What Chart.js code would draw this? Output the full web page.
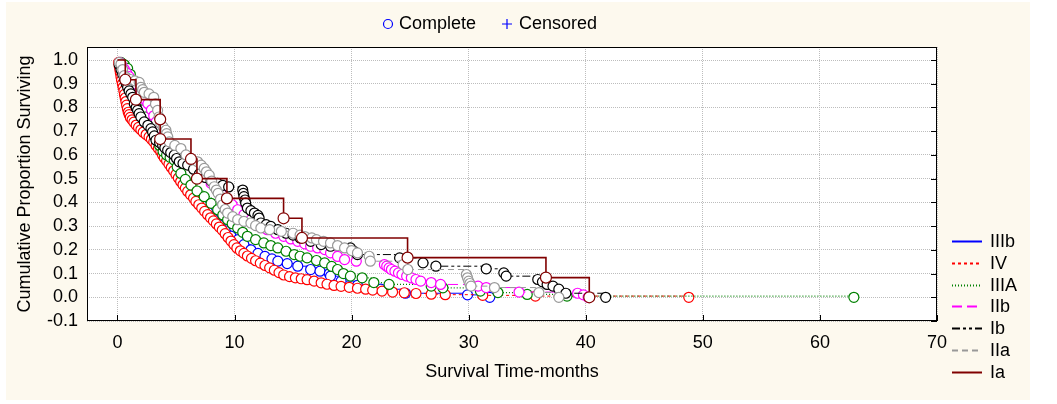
<!DOCTYPE html>
<html>
<head>
<meta charset="utf-8">
<script src="https://cdn.jsdelivr.net/npm/chart.js@4.4.1/dist/chart.umd.min.js"></script>
<style>
html,body{margin:0;padding:0;background:#fff;}
canvas{display:block;}
</style>
</head>
<body>
<canvas id="c" width="1057" height="404"></canvas>
<script>
// ---------- data ----------
const xTicks = [0, 10, 20, 30, 40, 50, 60, 70];
const xTickLabels = ['0', '10', '20', '30', '40', '50', '60', '70'];
const yTicks = [-0.1, 0, 0.1, 0.2, 0.3, 0.4, 0.5, 0.6, 0.7, 0.8, 0.9, 1.0];
const yTickLabels = ['-0.1', '0.0', '0.1', '0.2', '0.3', '0.4', '0.5', '0.6', '0.7', '0.8', '0.9', '1.0'];
const seriesNames = ['IIIb', 'IV', 'IIIA', 'IIb', 'Ib', 'IIa', 'Ia'];

// [time (months), cumulative proportion surviving]
const ptsIIIb = [[0,1],[0.2,0.97],[0.4,0.93],[0.6,0.89],[0.8,0.85],[1.0,0.81],[1.3,0.78],[1.7,0.75],[2.2,0.72],[2.7,0.69],[3.2,0.66],[3.7,0.625],[4.2,0.59],[4.7,0.555],[5.2,0.52],[5.7,0.485],[6.2,0.45],[6.7,0.42],[7.2,0.39],[7.7,0.36],[8.2,0.33],[8.7,0.305],[9.2,0.28],[9.7,0.258],[10.3,0.243],[10.8,0.222],[11.4,0.2],[12.0,0.185],[12.6,0.172],[13.2,0.162],[13.7,0.152],[14.5,0.142],[15.4,0.131],[16.5,0.117],[17.3,0.11],[18.1,0.1],[18.2,0.089],[19.1,0.068],[20.5,0.05],[22.5,0.034],[24.6,0.017],[29.9,0.01],[31.8,0]];

const ptsIV = [[0,1],[0.1,0.99],[0.15,0.975],[0.2,0.96],[0.25,0.945],[0.3,0.93],[0.35,0.915],[0.42,0.9],[0.48,0.885],[0.55,0.87],[0.6,0.855],[0.66,0.84],[0.72,0.825],[0.78,0.81],[0.85,0.795],[0.92,0.78],[1.0,0.77],[1.1,0.758],[1.25,0.748],[1.4,0.738],[1.6,0.726],[1.8,0.716],[2.0,0.706],[2.2,0.696],[2.45,0.686],[2.7,0.676],[2.9,0.666],[3.1,0.655],[3.3,0.64],[3.5,0.627],[3.7,0.614],[3.85,0.6],[4.0,0.588],[4.2,0.575],[4.4,0.561],[4.6,0.547],[4.8,0.533],[5.0,0.518],[5.2,0.503],[5.4,0.488],[5.6,0.474],[5.8,0.46],[6.0,0.446],[6.25,0.432],[6.5,0.418],[6.7,0.404],[6.95,0.39],[7.2,0.376],[7.45,0.362],[7.7,0.348],[7.95,0.335],[8.2,0.322],[8.45,0.309],[8.7,0.296],[8.95,0.283],[9.2,0.268],[9.45,0.252],[9.7,0.237],[9.95,0.222],[10.2,0.208],[10.5,0.196],[10.8,0.185],[11.1,0.174],[11.45,0.164],[11.8,0.154],[12.2,0.144],[12.6,0.134],[13.0,0.124],[13.4,0.114],[13.8,0.104],[14.2,0.094],[14.7,0.087],[15.2,0.082],[15.7,0.078],[16.2,0.074],[16.8,0.068],[17.4,0.061],[17.9,0.055],[18.5,0.05],[19.1,0.046],[19.8,0.042],[20.5,0.038],[21.2,0.034],[21.8,0.03],[22.6,0.026],[23.5,0.022],[24.5,0.019],[25.5,0.016],[26.8,0.013],[28.0,0.011],[31.2,0.008],[35.7,0.005],[48.8,0]];

const ptsIIIA = [[0,1],[0.3,0.99],[0.6,0.98],[0.87,0.965],[1.1,0.94],[1.3,0.91],[1.5,0.88],[1.7,0.85],[1.9,0.82],[2.1,0.79],[2.4,0.76],[2.7,0.73],[3.0,0.7],[3.3,0.67],[3.6,0.64],[3.9,0.615],[4.2,0.6],[4.5,0.59],[4.85,0.578],[5.1,0.55],[5.42,0.522],[5.8,0.497],[6.28,0.473],[6.8,0.448],[7.41,0.424],[8.0,0.396],[8.56,0.369],[9.0,0.347],[9.41,0.327],[9.8,0.31],[10.27,0.292],[10.7,0.274],[11.1,0.257],[11.8,0.243],[12.5,0.229],[13.1,0.218],[13.7,0.208],[14.4,0.194],[15.1,0.18],[15.6,0.173],[16.2,0.166],[17.0,0.155],[17.7,0.145],[18.3,0.13],[18.8,0.117],[19.3,0.1],[19.9,0.089],[20.9,0.082],[21.9,0.062],[23.2,0.054],[26.8,0.047],[27.8,0.04],[31.0,0.026],[32.5,0.02],[35.0,0.012],[38.4,0.005],[62.9,0]];

const ptsIIb = [[0,1],[0.2,0.99],[0.4,0.975],[0.6,0.96],[0.8,0.945],[1.0,0.93],[1.2,0.91],[1.4,0.89],[1.6,0.875],[1.8,0.865],[2.0,0.857],[2.3,0.836],[2.6,0.816],[2.9,0.79],[3.1,0.765],[3.3,0.739],[3.6,0.704],[3.9,0.68],[4.2,0.66],[4.6,0.64],[5.1,0.62],[5.6,0.6],[6.1,0.58],[6.56,0.564],[7.0,0.536],[7.4,0.508],[8.0,0.48],[8.56,0.452],[9.0,0.43],[9.41,0.41],[9.8,0.39],[10.27,0.369],[10.8,0.348],[11.4,0.327],[12.1,0.306],[12.8,0.285],[13.5,0.27],[14.2,0.257],[14.8,0.246],[15.4,0.236],[16.0,0.225],[16.5,0.215],[17.1,0.208],[17.7,0.201],[18.2,0.187],[18.8,0.172],[19.4,0.159],[20.4,0.152],[22.8,0.138],[23.0,0.131],[23.2,0.124],[23.4,0.117],[23.7,0.11],[24.0,0.103],[24.3,0.096],[24.7,0.089],[25.1,0.082],[25.5,0.075],[25.9,0.068],[26.8,0.062],[27.6,0.054],[30.8,0.047],[31.5,0.041],[34.3,0.022],[39.3,0.017],[39.8,0.01],[40.2,0]];

const ptsIb = [[0,1],[0.15,0.98],[0.3,0.96],[0.45,0.94],[0.6,0.92],[0.75,0.9],[0.87,0.885],[1.0,0.87],[1.15,0.857],[1.3,0.843],[1.44,0.816],[1.6,0.8],[1.72,0.788],[1.85,0.774],[2.0,0.76],[2.29,0.739],[2.6,0.725],[2.86,0.711],[3.0,0.697],[3.15,0.68],[3.29,0.662],[3.6,0.652],[3.86,0.641],[4.05,0.63],[4.29,0.62],[4.55,0.61],[4.85,0.599],[5.05,0.585],[5.28,0.571],[5.6,0.564],[6.0,0.557],[6.5,0.54],[7.0,0.52],[7.5,0.505],[8.0,0.49],[8.56,0.48],[9.0,0.472],[9.5,0.465],[10.7,0.452],[10.75,0.438],[10.8,0.424],[10.9,0.41],[10.95,0.397],[11.1,0.376],[11.4,0.365],[11.7,0.355],[12.0,0.345],[12.1,0.334],[12.25,0.313],[12.7,0.306],[13.1,0.299],[13.7,0.285],[14.4,0.27],[15.0,0.262],[15.6,0.25],[16.5,0.236],[17.4,0.222],[18.2,0.215],[19.9,0.208],[20.2,0.194],[20.5,0.18],[24.1,0.166],[26.1,0.145],[27.2,0.131],[31.5,0.12],[33.0,0.103],[33.2,0.089],[35.9,0.075],[36.3,0.065],[36.7,0.054],[37.2,0.047],[37.7,0.034],[38.3,0.017],[41.7,0]];

const ptsIIa = [[0,1],[0.15,0.99],[0.3,0.983],[0.45,0.96],[0.58,0.934],[0.8,0.925],[1.1,0.918],[1.5,0.912],[1.86,0.906],[2.0,0.885],[2.15,0.875],[2.29,0.864],[2.7,0.857],[3.1,0.843],[3.25,0.815],[3.43,0.788],[3.55,0.76],[3.7,0.732],[3.9,0.718],[4.14,0.704],[4.2,0.69],[4.3,0.676],[4.43,0.655],[4.9,0.64],[5.42,0.627],[5.85,0.6],[6.28,0.578],[6.85,0.571],[7.15,0.557],[7.41,0.543],[7.6,0.529],[7.84,0.515],[8.05,0.49],[8.27,0.466],[8.45,0.452],[8.6,0.438],[8.8,0.414],[8.98,0.39],[9.2,0.37],[9.41,0.355],[9.85,0.34],[10.27,0.327],[10.8,0.32],[11.4,0.313],[11.8,0.302],[12.25,0.292],[13.0,0.285],[14.0,0.278],[15.0,0.27],[15.6,0.262],[16.0,0.256],[16.6,0.25],[17.0,0.243],[17.6,0.236],[18.2,0.229],[18.8,0.218],[19.4,0.208],[20.0,0.197],[20.5,0.187],[21.5,0.173],[21.6,0.152],[24.4,0.138],[24.8,0.117],[29.8,0.096],[29.9,0.082],[30.0,0.068],[30.1,0.058],[30.2,0.047],[32.2,0.041],[36.0,0.02],[37.7,0]];

const ptsIa = [[0,1],[0.67,0.917],[1.58,0.833],[3.65,0.75],[3.65,0.667],[6.28,0.583],[6.79,0.5],[9.35,0.417],[14.19,0.333],[15.76,0.25],[24.78,0.167],[36.6,0.083],[40.3,0]];

// ---------- styles ----------
const FONT = '"Liberation Sans", Arial, sans-serif';
const styles = [
  {color:'#0000ff', dash:[], width:1, r:5},
  {color:'#ff0000', dash:[3,3], width:1, r:5},
  {color:'#008000', dash:[1,2], width:1.2, r:5},
  {color:'#ff00ff', dash:[10,5], width:1, r:5},
  {color:'#000000', dash:[8,3,3,3,3,3], width:1, r:5},
  {color:'#999999', dash:[6,4], width:1, r:5},
  {color:'#800000', dash:[], width:1.6, r:5.5}
];
const allPts = [ptsIIIb, ptsIV, ptsIIIA, ptsIIb, ptsIb, ptsIIa, ptsIa];

const datasets = allPts.map((pts, i) => ({
  label: seriesNames[i],
  data: pts.map(p => ({x: p[0], y: p[1]})),
  stepped: 'before',
  borderColor: styles[i].color,
  borderWidth: styles[i].width,
  borderDash: styles[i].dash,
  pointRadius: ctx => ctx.dataIndex === 0 ? 0 : styles[i].r,
  pointBorderColor: styles[i].color,
  pointBackgroundColor: '#ffffff',
  pointBorderWidth: 1.2,
  pointStyle: 'circle',
  fill: false,
  order: 6 - i
}));

const decor = {
  id: 'decor',
  beforeDraw(chart) {
    const {ctx, chartArea: a} = chart;
    ctx.save();
    ctx.fillStyle = '#ffffff';
    ctx.fillRect(0, 0, chart.width, chart.height);
    ctx.fillStyle = '#fdf9ee';
    ctx.fillRect(6, 2, 1024, 398);
    ctx.fillStyle = '#ffffff';
    ctx.fillRect(a.left, a.top, a.right - a.left, a.bottom - a.top);
    ctx.restore();
  },
  afterDraw(chart) {
    const {ctx, chartArea: a, scales} = chart;
    ctx.save();
    // frame
    ctx.strokeStyle = '#000';
    ctx.lineWidth = 1;
    ctx.setLineDash([]);
    ctx.strokeRect(Math.round(a.left) + 0.5, Math.round(a.top) + 0.5, Math.round(a.right - a.left) - 1, Math.round(a.bottom - a.top) - 1);
    // inward tick marks (bottom and right)
    ctx.beginPath();
    xTicks.forEach(v => {
      const px = Math.round(scales.x.getPixelForValue(v)) + 0.5;
      ctx.moveTo(px, a.bottom); ctx.lineTo(px, a.bottom - 6);
    });
    yTicks.forEach(v => {
      const py = Math.round(scales.y.getPixelForValue(v)) + 0.5;
      ctx.moveTo(a.right, py); ctx.lineTo(a.right - 6, py);
    });
    ctx.stroke();

    // top legend: Complete / Censored
    ctx.font = '18px ' + FONT;
    ctx.textBaseline = 'middle';
    ctx.textAlign = 'left';
    ctx.fillStyle = '#000';
    ctx.strokeStyle = '#0000ff';
    ctx.lineWidth = 1.2;
    ctx.beginPath(); ctx.arc(388, 24, 4.5, 0, Math.PI * 2); ctx.stroke();
    ctx.fillText('Complete', 399, 24);
    ctx.beginPath();
    ctx.moveTo(502, 24); ctx.lineTo(512, 24);
    ctx.moveTo(507, 19); ctx.lineTo(507, 29);
    ctx.stroke();
    ctx.fillText('Censored', 519, 24);

    // right legend
    seriesNames.forEach((name, i) => {
      const y = 241 + i * 21.8;
      ctx.strokeStyle = styles[i].color;
      ctx.lineWidth = 2;
      ctx.setLineDash(styles[i].dash);
      ctx.beginPath(); ctx.moveTo(952, Math.round(y) + 0.5); ctx.lineTo(982, Math.round(y) + 0.5); ctx.stroke();
      ctx.setLineDash([]);
      ctx.fillStyle = '#000';
      ctx.fillText(name, 990, y + 1);
    });
    ctx.restore();
  }
};

new Chart(document.getElementById('c'), {
  type: 'line',
  data: {datasets},
  plugins: [decor],
  options: {
    responsive: false,
    animation: false,
    devicePixelRatio: 1,
    layout: {padding: {left: 0, right: 120, top: 47, bottom: 0}},
    plugins: {legend: {display: false}, tooltip: {enabled: false}, title: {display: false}},
    scales: {
      x: {
        type: 'linear', min: -2.6, max: 70,
        afterBuildTicks: s => { s.ticks = xTicks.map(v => ({value: v})); },
        afterFit: s => { s.height = 83; },
        grid: {color: '#bdbdbd', lineWidth: 1, drawTicks: false},
        border: {display: false, dash: [1, 1]},
        ticks: {padding: 11, color: '#000', font: {family: FONT, size: 18}, maxRotation: 0, autoSkip: false,
                callback: (v, i) => xTickLabels[i]},
        title: {display: true, text: 'Survival Time-months', color: '#000', font: {family: FONT, size: 18}, padding: {top: 0, bottom: 21}}
      },
      y: {
        type: 'linear', min: -0.1, max: 1.055,
        afterBuildTicks: s => { s.ticks = yTicks.map(v => ({value: v})); },
        afterFit: s => { s.width = 87; },
        grid: {color: '#bdbdbd', lineWidth: 1, drawTicks: false},
        border: {display: false, dash: [1, 1]},
        ticks: {padding: 9, color: '#000', font: {family: FONT, size: 18}, autoSkip: false,
                callback: (v, i) => yTickLabels[i]},
        title: {display: true, text: 'Cumulative Proportion Surviving', color: '#000', font: {family: FONT, size: 18}, padding: {top: 14, bottom: 0}}
      }
    }
  }
});
</script>
</body>
</html>
